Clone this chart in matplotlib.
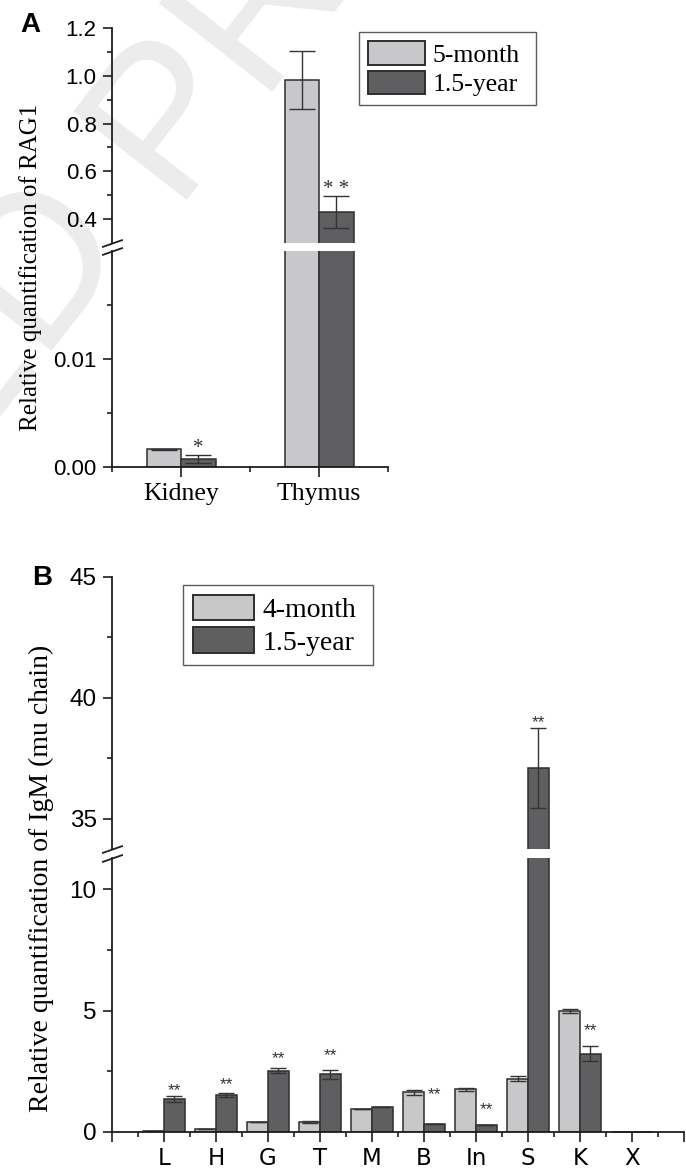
import matplotlib
matplotlib.use('Agg')
import matplotlib.pyplot as plt
import numpy as np
from matplotlib.ticker import FixedLocator, FormatStrFormatter

SERIF = 'Liberation Serif'
SANS = 'Liberation Sans'

# panel A : RAG1
tissues_a = ['Kidney', 'Thymus']
rag1_5m = [0.00164, 0.983]
rag1_5m_err = [0.00005, 0.12]
rag1_15y = [0.00074, 0.43]
rag1_15y_err = [0.00037, 0.067]
stars_a = ['*', '* *']

# panel B : IgM (mu chain)
tissues_b = ['L', 'H', 'G', 'T', 'M', 'B', 'In', 'S', 'K', 'X']
igm_4m = [0.03, 0.13, 0.42, 0.42, 0.95, 1.63, 1.75, 2.19, 4.98, 0.0]
igm_4m_err = [0.0, 0.0, 0.0, 0.03, 0.0, 0.1, 0.08, 0.1, 0.09, 0.0]
igm_15y = [1.35, 1.54, 2.52, 2.38, 1.03, 0.33, 0.27, 37.1, 3.23, 0.02]
igm_15y_err = [0.12, 0.08, 0.1, 0.18, 0.0, 0.0, 0.0, 1.65, 0.3, 0.0]
stars_b = ['**', '**', '**', '**', '', '**', '**', '**', '**', '']
stars_b_y = [1.93, 2.16, 3.26, 3.37, 0, 1.75, 1.17, 39.2, 4.40, 0]

LIGHT = '#c8c8ca'
DARK = '#5f5f61'
EDGE = '#2e2e2e'

W, H = 686, 1169
fig = plt.figure(figsize=(W / 100, H / 100), dpi=100)


def px_axes(x0, y0, x1, y1):
    # axes from pixel box (top-left origin)
    ax = fig.add_axes([x0 / W, 1 - y1 / H, (x1 - x0) / W, (y1 - y0) / H])
    ax.patch.set_visible(False)
    return ax


# faint watermark
fig.text(170 / W, 1 - 200 / H, 'UNCORRECTED ', rotation=52, rotation_mode='anchor',
         ha='right', va='baseline', fontsize=150, color='#ececec', family=SANS, zorder=-5)
fig.text(170 / W, 1 - 200 / H, 'PROOF', rotation=52, rotation_mode='anchor',
         ha='left', va='baseline', fontsize=150, color='#ececec', family=SANS, zorder=-5)


def style(ax, top, size):
    ax.spines['top'].set_visible(False)
    ax.spines['right'].set_visible(False)
    for s in ax.spines.values():
        s.set_linewidth(1.3)
        s.set_color('#1e1e1e')
    ax.tick_params(which='major', direction='out', length=6.5, width=1.2, color='#1e1e1e',
                   labelsize=size, pad=4.5)
    ax.tick_params(which='minor', direction='out', length=3.5, width=1.2, color='#1e1e1e')
    for lab in ax.get_yticklabels():
        lab.set_family(SANS)
    if top:
        ax.spines['bottom'].set_visible(False)
        ax.tick_params(axis='x', which='both', bottom=False, labelbottom=False)


def draw_bars(ax, x, v1, e1, v2, e2, w, cap):
    ekw = dict(ecolor='#333333', elinewidth=1.0, capthick=1.0)
    ax.bar(x - w / 2, v1, w, color=LIGHT, edgecolor=EDGE, linewidth=1.1,
           yerr=e1, capsize=cap, error_kw=ekw)
    ax.bar(x + w / 2, v2, w, color=DARK, edgecolor=EDGE, linewidth=1.1,
           yerr=e2, capsize=cap, error_kw=ekw)


def break_marks(ax_top, ax_bot):
    kw = dict(marker=[(-1, -0.35), (1, 0.35)], markersize=15, linestyle='none',
              color='#1e1e1e', mec='#1e1e1e', mew=1.3, clip_on=False)
    ax_top.plot([0], [0], transform=ax_top.transAxes, **kw)
    ax_bot.plot([0], [1], transform=ax_bot.transAxes, **kw)


def legend(ax, labels, x0, y0, x1, size):
    handles = [plt.Rectangle((0, 0), 1, 1, facecolor=LIGHT, edgecolor=EDGE, linewidth=1.4),
               plt.Rectangle((0, 0), 1, 1, facecolor=DARK, edgecolor=EDGE, linewidth=1.4)]
    leg = ax.legend(handles, labels, loc='upper left', mode='expand',
                    bbox_to_anchor=(x0 / W, 1 - (y0 + 80) / H, (x1 - x0) / W, 80 / H),
                    bbox_transform=fig.transFigure,
                    prop={'family': SERIF, 'size': size}, frameon=True, fancybox=False,
                    borderpad=0.35, handlelength=2.2, handleheight=1.05,
                    handletextpad=0.3, labelspacing=0.15, borderaxespad=0)
    leg.get_frame().set_edgecolor('#333333')
    leg.get_frame().set_linewidth(1.0)
    return leg


# ---------------- panel A ----------------
xa = np.arange(len(tissues_a))
axA1 = px_axes(112, 28, 388, 243)
axA2 = px_axes(112, 251, 388, 467)
for ax in (axA1, axA2):
    draw_bars(ax, xa, rag1_5m, rag1_5m_err, rag1_15y, rag1_15y_err, 0.25, 9.5)
    ax.set_xlim(-0.5, 1.5)
axA1.set_ylim(0.3, 1.2)
axA2.set_ylim(0, 0.02)
axA1.yaxis.set_major_locator(FixedLocator([0.4, 0.6, 0.8, 1.0, 1.2]))
axA1.yaxis.set_minor_locator(FixedLocator([0.5, 0.7, 0.9, 1.1]))
axA1.yaxis.set_major_formatter(FormatStrFormatter('%.1f'))
axA2.yaxis.set_major_locator(FixedLocator([0.0, 0.01]))
axA2.yaxis.set_minor_locator(FixedLocator([0.005, 0.015]))
axA2.yaxis.set_major_formatter(FormatStrFormatter('%.2f'))
axA2.set_xticks(xa)
axA2.set_xticklabels(tissues_a)
axA2.xaxis.set_minor_locator(FixedLocator([-0.5, 0.5, 1.5]))
style(axA1, True, 16)
style(axA2, False, 16)
axA2.tick_params(axis='x', which='major', length=7.5, pad=4, labelsize=18.5)
for lab in axA2.get_xticklabels():
    lab.set_family(SERIF)
break_marks(axA1, axA2)

# significance stars A
axA2.annotate(stars_a[0], (xa[0] + 0.125, rag1_15y[0] + rag1_15y_err[0]), xytext=(0, -2),
              textcoords='offset points', ha='center', va='bottom', fontsize=15,
              family=SERIF, color='#333333')
axA1.annotate(stars_a[1], (xa[1] + 0.125, rag1_15y[1] + rag1_15y_err[1]), xytext=(0, -2),
              textcoords='offset points', ha='center', va='bottom', fontsize=15,
              family=SERIF, color='#333333')

fig.text(31 / W, 1 - 267 / H, 'Relative quantification of RAG1', rotation=90,
         ha='center', va='center', family=SERIF, fontsize=18)
fig.text(20 / W, 1 - 32 / H, 'A', family=SANS, fontweight='bold', fontsize=20)

legend(axA1, ['5-month', '1.5-year'], 359, 32, 536, 18.5)

# ---------------- panel B ----------------
xb = np.arange(1, len(tissues_b) + 1)
axB1 = px_axes(112, 577, 684, 849)
axB2 = px_axes(112, 858, 684, 1132)
for ax in (axB1, axB2):
    draw_bars(ax, xb, igm_4m, igm_4m_err, igm_15y, igm_15y_err, 0.4, 6)
    ax.set_xlim(0, 11)
axB1.set_ylim(33.76, 45)
axB2.set_ylim(0, 11.28)
axB1.yaxis.set_major_locator(FixedLocator([35, 40, 45]))
axB1.yaxis.set_minor_locator(FixedLocator([37.5, 42.5]))
axB2.yaxis.set_major_locator(FixedLocator([0, 5, 10]))
axB2.yaxis.set_minor_locator(FixedLocator([2.5, 7.5]))
axB2.set_xticks(np.arange(0, 12))
axB2.set_xticklabels([''] + tissues_b + [''])
axB2.xaxis.set_minor_locator(FixedLocator(np.arange(0.5, 11, 1.0)))
style(axB1, True, 17.5)
style(axB2, False, 17.5)
axB2.tick_params(axis='x', which='major', length=7.5, labelsize=16.5, pad=3)

for xi, s, sy in zip(xb, stars_b, stars_b_y):
    if not s:
        continue
    ax = axB1 if sy > 20 else axB2
    ax.annotate(s, (xi + 0.2, sy), xytext=(0, -4), textcoords='offset points',
                ha='center', va='center', fontsize=12.5, family=SANS, color='#333333')

break_marks(axB1, axB2)

fig.text(41 / W, 1 - 878 / H, 'Relative quantification of IgM (mu chain)', rotation=90,
         ha='center', va='center', family=SERIF, fontsize=20)
fig.text(32 / W, 1 - 585 / H, 'B', family=SANS, fontweight='bold', fontsize=20)

legend(axB1, ['4-month', '1.5-year'], 183, 585, 373, 20)

fig.savefig('out.png', dpi=100)
